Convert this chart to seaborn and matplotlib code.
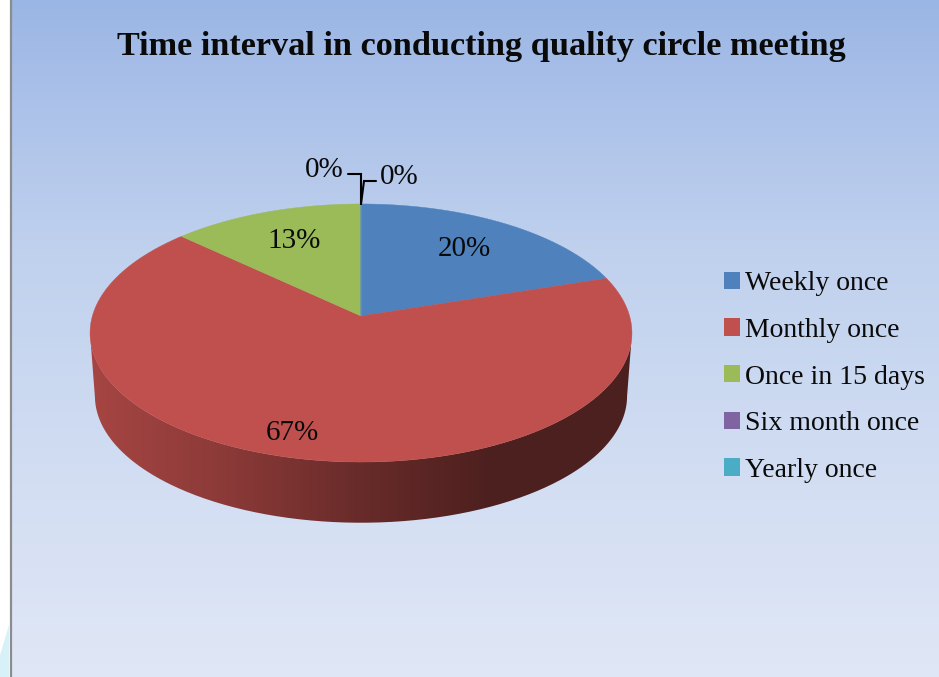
import numpy as np
import seaborn as sns
import matplotlib
matplotlib.use('Agg')
import matplotlib.pyplot as plt
import matplotlib.colors as mc
import matplotlib.transforms as mtransforms
from matplotlib.patches import Patch, PathPatch, Polygon
from matplotlib.path import Path

title = "Time interval in conducting quality circle meeting"
categories = ["Weekly once", "Monthly once", "Once in 15 days", "Six month once", "Yearly once"]
shares = [20, 67, 13, 0, 0]
slice_colors = ["#4f81bd", "#c0504d", "#9bbb59", "#8064a2", "#4bacc6"]

W, H = 939, 677

# pie geometry in image pixels (perspective of the tilted disc)
cx, cy = 361, 316
kk = 0.1318
aa = 126.8
bb = 268.6
depth = 63
rim_scale = 0.982
ell_y = 333


class TiltTransform(mtransforms.Transform):
    input_dims = 2
    output_dims = 2
    is_separable = False
    has_inverse = False

    def transform_non_affine(self, xy):
        xy = np.asarray(xy, dtype=float)
        w = 1 + kk * xy[:, 1]
        return np.column_stack([cx + bb * xy[:, 0] / w, cy - aa * xy[:, 1] / w])

    def transform_path_non_affine(self, path):
        # flatten the bezier arcs first, then bend them
        polys = path.to_polygons(mtransforms.Affine2D().scale(800), closed_only=False)
        verts = np.vstack(polys) / 800
        return Path(self.transform_non_affine(verts))


tilt = TiltTransform()


def lower_rim(pts):
    x = cx + (pts[:, 0] - cx) * rim_scale
    y = ell_y + (pts[:, 1] - ell_y) * rim_scale + depth
    return np.column_stack([x, y])


sns.set_style("white")
plt.rcParams['font.family'] = ['Liberation Serif', 'DejaVu Serif']
palette = sns.color_palette(slice_colors)

fig = plt.figure(figsize=(W / 100, H / 100), dpi=100, facecolor="white")
ax = fig.add_axes([0, 0, 1, 1])

# background
bg_y = [0, 100, 250, 500, 677]
bg_cols = [mc.to_rgb(c) for c in ["#9ab6e4", "#abc1e9", "#c0d1ee", "#d4dff3", "#e0e7f6"]]
rows = np.arange(H)
grad = np.stack([np.interp(rows, bg_y, [c[i] for c in bg_cols]) for i in range(3)], axis=1)[:, None, :]
ax.imshow(grad, extent=(11, W, H, 0), aspect='auto', zorder=0)
ax.plot([10.5, 10.5], [0, H], color="#8c8c8c", lw=1.6, zorder=1, solid_capstyle='butt')
ax.add_patch(Polygon([(0, H), (0, 655), (9, 625), (9, H)], closed=True, fc="#d8f1f9", ec="none", zorder=1))

# top of the pie
wedges, _ = ax.pie(shares, colors=palette, startangle=90, counterclock=False,
                   wedgeprops=dict(linewidth=0.3, zorder=3))
for wd, col in zip(wedges, palette):
    wd.set_edgecolor(col)
    wd.set_transform(tilt + ax.transData)

# side wall, shaded left to right
shade_x = [96, 230, 361, 490, 630]
shade_f = [0.86, 0.72, 0.54, 0.40, 0.40]
t_left = np.arccos(-kk)
t_right = 2 * np.pi - t_left
edges = np.cumsum([0] + shares) / 100 * 2 * np.pi
for i, col in enumerate(palette):
    t0 = max(edges[i], t_left)
    t1 = min(edges[i + 1], t_right)
    if t1 <= t0:
        continue
    tt = np.linspace(t0, t1, 300)
    upper = tilt.transform_non_affine(np.column_stack([np.sin(tt), np.cos(tt)]))
    lower = lower_rim(upper)
    outline = np.vstack([upper, lower[::-1]])
    xs = np.arange(W)
    fac = np.interp(xs, shade_x, shade_f)
    strip = (np.array(col)[None, :] * fac[:, None])[None, :, :]
    im = ax.imshow(strip, extent=(0, W, 540, 320), aspect='auto', zorder=2)
    im.set_clip_path(PathPatch(Path(outline), transform=ax.transData))

# data labels
label_pos = [(464, 247), (292, 431), (294, 239), (324, 168), (399, 175)]
for val, (lx, ly) in zip(shares, label_pos):
    ax.text(lx, ly + 2, f"{val}%", ha='center', va='center', fontsize=21, color="#0a0a0a", zorder=5)

# leader lines of the two empty slices
ax.plot([348, 361, 361], [174, 174, 204], color="black", lw=1.5, zorder=4, solid_joinstyle='miter')
ax.plot([376, 364, 361], [181, 181, 204], color="black", lw=1.5, zorder=4, solid_joinstyle='miter')

ax.text(481, 47, title, ha='center', va='center', fontsize=24.7, fontweight='bold', color="#0a0a0a", zorder=5)

handles = [Patch(facecolor=c, edgecolor='none') for c in palette]
ax.legend(handles, categories, loc='center left', bbox_to_anchor=(716 / W, 1 - 377 / H),
          bbox_transform=fig.transFigure, frameon=False, fontsize=20, labelcolor="#0a0a0a",
          handlelength=0.575, handleheight=0.575, handletextpad=0.18, labelspacing=0.78,
          borderpad=0.3, borderaxespad=0)

ax.set_aspect('auto')
ax.set_xlim(0, W)
ax.set_ylim(H, 0)
ax.axis('off')

fig.savefig("out.png", dpi=100)
